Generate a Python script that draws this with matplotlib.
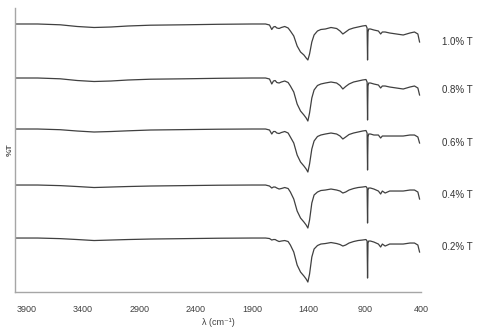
import matplotlib
matplotlib.use('Agg')
import matplotlib.pyplot as plt
import numpy as np

plt.rcParams['font.family'] = ['Liberation Sans', 'DejaVu Sans']

# wavenumbers (cm-1) of the points
wn = [4000, 3800, 3600, 3450, 3300, 3150, 3000, 2800, 2500, 2200, 1900, 1780,
      1745, 1725, 1710, 1695, 1680, 1660, 1640, 1610, 1580, 1560, 1530, 1500,
      1470, 1440, 1420, 1405, 1390, 1370, 1350, 1320, 1290, 1250, 1200, 1150,
      1120, 1095, 1070, 1040, 1000, 960, 920, 890, 880, 876, 872, 866, 850,
      820, 780, 760, 745, 720, 680, 620, 560, 500, 460, 430, 415]

# drop below each baseline (arbitrary %T units)
t10 = [0, 0, 0.8, 2.5, 3.5, 3, 2, 1.2, 0.8, 0.3, 0, 0,
       1, 5.5, 3, 2.5, 4, 4.5, 3.5, 2.5, 4, 7, 12, 22,
       28, 31, 34, 36, 30, 18, 11, 7, 5.5, 5, 3.5, 4.5,
       7, 10, 8, 5.5, 4, 3, 2, 1.5, 4, 36, 8, 5, 5,
       6, 7, 10, 8, 8, 9, 10, 11, 9, 8, 10, 18]
t08 = [0, 0, 0.8, 2.5, 3.5, 3, 2, 1.2, 0.8, 0.3, 0, 0,
       1, 6, 3, 2.5, 4.5, 5, 4, 3, 4.5, 8, 14, 26,
       33, 37, 40, 43, 35, 20, 12, 7.5, 6, 5, 4, 5,
       7.5, 11, 8.5, 6, 4, 3, 2, 1.5, 4, 42, 8, 5, 5,
       6, 7, 10, 8, 8, 9, 10, 11, 9, 8, 10, 17]
t06 = [0, 0, 0.7, 2, 3, 2.5, 1.8, 1, 0.6, 0.2, 0, 0,
       1, 5, 2.5, 2.5, 4, 4.5, 3.5, 2.5, 4, 8, 14, 26,
       33, 37, 40, 43, 35, 20, 12, 7.5, 6, 5, 4, 5,
       7, 10, 8, 5.5, 4, 3, 2, 1.5, 4, 41, 8, 5, 5,
       6, 6, 9, 7, 7, 7, 7, 7, 6, 6, 8, 14]
t04 = [0, 0, 0.6, 1.5, 2.5, 2, 1.5, 1, 0.6, 0.2, 0, 0,
       1, 3, 2, 2, 3, 4, 3.5, 2.5, 3.5, 7, 14, 26,
       33, 37, 40, 43, 35, 18, 10, 7, 5.5, 5, 4, 5,
       6, 8, 7, 5, 3.5, 2.5, 2, 1.5, 3, 38, 5, 3, 3,
       4, 6, 9, 6, 8, 6, 6, 6, 5, 5, 7, 14]
t02 = [0, 0, 0.6, 1.5, 2.5, 2, 1.5, 1, 0.6, 0.2, 0, 0,
       0.5, 2, 1.5, 1.5, 2.5, 3.5, 3, 2.5, 3.5, 7, 14, 27,
       34, 38, 41, 44, 36, 19, 11, 7.5, 6, 5.5, 4.5, 5.5,
       6.5, 8, 7, 5, 3.5, 2.5, 2, 1.5, 3, 40, 5, 3, 3,
       4, 6, 9, 6, 8, 6, 6, 6, 5, 5, 7, 14]

labels = ['1.0% T', '0.8% T', '0.6% T', '0.4% T', '0.2% T']
series = [t10, t08, t06, t04, t02]
offsets = [268, 214, 163, 107, 54]
label_y = [250, 202, 149, 97, 45]

fig = plt.figure(figsize=(4.87, 3.33), dpi=100)
ax = fig.add_axes([0.031, 0.123, 0.834, 0.853])

for vals, off, lab, ly in zip(series, offsets, labels, label_y):
    ax.plot(wn, off - np.array(vals), color='#404040', lw=0.9)
    ax.text(1.052, ly, lab, transform=ax.get_yaxis_transform(),
            fontsize=7, color='#333333', va='center', ha='left')

ax.set_xlim(4000, 400)
ax.set_ylim(0, 284)
ax.set_xticks([3900, 3400, 2900, 2400, 1900, 1400, 900, 400])
ax.set_yticks([])
ax.tick_params(axis='x', length=0, labelsize=6.5, labelcolor='#404040', pad=9)
for s in ['top', 'right']:
    ax.spines[s].set_visible(False)
for s in ['left', 'bottom']:
    ax.spines[s].set_color('#a6a6a6')
    ax.spines[s].set_linewidth(1.0)
ax.set_xlabel('λ (cm⁻¹)', fontsize=6.5, color='#404040', labelpad=3)
ax.set_ylabel('%T', fontsize=6, color='#505050', labelpad=1, fontweight='bold')

fig.savefig('out.png', dpi=100)
